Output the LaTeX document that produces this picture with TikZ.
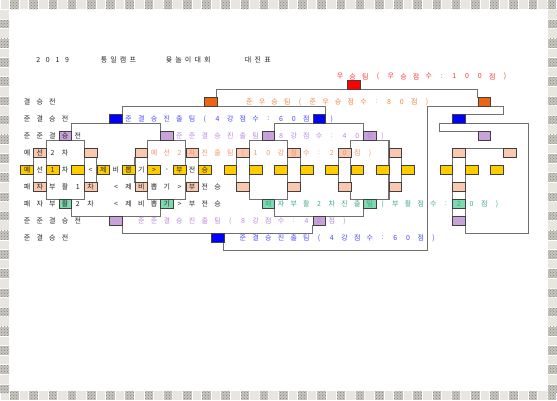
\documentclass[tikz,border=0pt]{standalone}
\usepackage{fontspec}
\setmainfont{Noto Sans CJK KR}
\usetikzlibrary{patterns}
\pgfdeclarelayer{bg}
\pgfdeclarelayer{lines}
\pgfsetlayers{bg,lines,main}
\definecolor{cyel}{RGB}{255,204,0}
\definecolor{cpch}{RGB}{250,200,175}
\definecolor{cpur}{RGB}{200,162,216}
\definecolor{cgrn}{RGB}{128,216,176}
\definecolor{cblu}{RGB}{0,0,255}
\definecolor{cdor}{RGB}{236,100,20}
\definecolor{cred}{RGB}{255,0,0}
\definecolor{tred}{RGB}{255,50,50}
\definecolor{tora}{RGB}{245,130,60}
\definecolor{tblu}{RGB}{70,70,255}
\definecolor{tpur}{RGB}{185,135,220}
\definecolor{tpch}{RGB}{240,150,110}
\definecolor{tgrn}{RGB}{60,170,135}
\definecolor{lgray}{RGB}{112,112,112}
\definecolor{tileA}{RGB}{232,230,224}
\definecolor{tileB}{RGB}{200,197,190}
\newcommand\XX[1]{(20.7+6.35*(#1))}
\newcommand\YY[1]{(80.7+8.5*(#1))}
\newcommand\cbx[4]{\node[cbox,fill=#4] (#1) at ({\XX{#2}},{\YY{#3}}) {};}
\newcommand\trow[5]{\foreach \ch [count=\i from 0] in {#5}{\node[txt,text=#4] (#1\i) at ({\XX{#2+1+2*\i}},{\YY{#3+0.5}}) {\ch};}}
\begin{document}
\begin{tikzpicture}[x=1pt,y=-1pt,
  cbox/.style={draw=black!75,line width=0.6pt,minimum width=12.7pt,minimum height=8.5pt,inner sep=0pt,outer sep=0pt,anchor=north west},
  br/.style={draw=lgray,line width=1.1pt},
  txt/.style={font=\fontsize{7}{8}\selectfont,inner sep=0pt,text=black!85},
  pat/.style={fill=tileB,postaction={pattern=crosshatch dots,pattern color=black!50}}]
\useasboundingbox (0,0) rectangle (557,400);
\begin{pgfonlayer}{bg}
\fill[white] (0,0) rectangle (557,400);
\foreach \i in {0,...,57}{
  \fill[tileA] ({9.6*\i+0.5},0.4) rectangle ({9.6*\i+9.1},9.0);
  \fill[tileA] ({9.6*\i+0.5},391.0) rectangle ({9.6*\i+9.1},399.6);
}
\foreach \i in {1,3,...,57}{
  \path[pat] ({9.6*\i+0.5},0.4) rectangle ({9.6*\i+9.1},9.0);
  \path[pat] ({9.6*\i+0.5},391.0) rectangle ({9.6*\i+9.1},399.6);
}
\foreach \j in {1,...,40}{
  \fill[tileA] (0.4,{9.6*\j+0.5}) rectangle (9.0,{9.6*\j+9.1});
  \fill[tileA] (548,{9.6*\j+0.5}) rectangle (556.6,{9.6*\j+9.1});
}
\foreach \j in {2,4,...,40}{
  \path[pat] (0.4,{9.6*\j+0.5}) rectangle (9.0,{9.6*\j+9.1});
  \path[pat] (548,{9.6*\j+0.5}) rectangle (556.6,{9.6*\j+9.1});
}
\end{pgfonlayer}
% boxes
\node[cbox,fill=cred] (rd) at (347.5,{\YY{0}}) {};
\node[cbox,fill=cdor] (oL) at (204.2,{\YY{2}}) {};
\cbx{oR}{72}{2}{cdor}
\foreach \n in {14,46,68}{\cbx{b\n}{\n}{4}{cblu}}
\cbx{b30}{30}{18}{cblu}
\foreach \n in {6,22,38,54,72}{\cbx{p\n}{\n}{6}{cpur}}
\foreach \n in {2,10,18,26,34,42,50,58,68,76}{\cbx{oa\n}{\n}{8}{cpch}}
\foreach \n in {0,4,8,12,16,20,24,28,32,36,40,44,48,52,56,60,66,70,74}{\cbx{y\n}{\n}{10}{cyel}}
\foreach \n in {2,10,18,26,34,42,50,58,68}{\cbx{ob\n}{\n}{12}{cpch}}
\foreach \n in {6,22,38,54,68}{\cbx{g\n}{\n}{14}{cgrn}}
\foreach \n in {14,46,68}{\cbx{q\n}{\n}{16}{cpur}}
\coordinate (h1) at ({\XX{64}},{\YY{3}});
\coordinate (h2) at ({\XX{76}},{\YY{4}});
\coordinate (k1) at ({\XX{66}},{\YY{6}});
\coordinate (k2) at ({\XX{80}},{\YY{5}});
\coordinate (k3) at ({\XX{70}},{\YY{18}});
% lines
\begin{pgfonlayer}{lines}
\draw[br] (oL.north east) -- ++(0,-8.5) -| (oR.north west);
\draw[br] (b14.north east) -- ++(0,-8.5) -| (b46.north east);
\draw[br] (p6.north east) -- ++(0,-8.5) -| (p22.north west);
\draw[br] (p38.north east) -- ++(0,-8.5) -| (p54.north west);
\draw[br] (g6.south east) -- ++(0,8.5) -| (g22.south west);
\draw[br] (g38.south east) -- ++(0,8.5) -| (g54.south west);
\draw[br] (q14.south east) -- ++(0,8.5) -| (q46.south west);
\draw[br] (b30.south east) -- ++(0,8.5) -| (h1) -| (h2) -- (b68.north east);
\draw[br] (p72.north west) -- (k1) |- (k2) |- (k3) |- (oa76.north west);
\draw[br] (oa68.south west) -- (q68.north west);
\foreach \g in {0,16,32,48}{
  \draw[br] ({\XX{\g+4}},{\YY{7}}) rectangle ({\XX{\g+10}},{\YY{14}});
  \draw[br] ({\XX{\g+2}},{\YY{9}}) -- ({\XX{\g+2}},{\YY{12}});
  \draw[br] ({\XX{\g+12}},{\YY{9}}) -- ({\XX{\g+12}},{\YY{12}});
}
\end{pgfonlayer}
% title
\foreach \x/\ch [count=\i] in {38.3/2,47.9/0,57.5/1,67.1/9,104/통,113.6/일,123.2/캠,132.8/프,169/윷,178.6/놀,188.2/이,197.8/대,207.4/회,248/대,257.8/진,267.5/표}
  {\node[txt] (ti\i) at (\x,60) {\ch};}
\foreach \ch [count=\i from 0] in {우,승,팀,{(},우,승,점,수,:,1,0,0,점,{)}}
  {\node[txt,text=tred] (rt\i) at ({340+12.7*\i},76.45) {\ch};}
% row labels and black text
\trow{la}{0}{2}{black!85}{결,승,전}
\trow{lb}{0}{4}{black!85}{준,결,승,전}
\trow{lc}{0}{6}{black!85}{준,준,결,승,전}
\trow{ld}{0}{8}{black!85}{예,선,2,차}
\trow{le}{0}{10}{black!85}{예,선,1,차,{},<,제,비,뽑,기,>,-,부,전,승}
\trow{lf}{0}{12}{black!85}{패,자,부,활,1,차,{},<,제,비,뽑,기,>,부,전,승}
\trow{lg}{0}{14}{black!85}{패,자,부,활,2,차,{},<,제,비,뽑,기,>,부,전,승}
\trow{lh}{0}{16}{black!85}{준,준,결,승,전}
\trow{li}{0}{18}{black!85}{준,결,승,전}
% coloured texts
\trow{ca}{35}{2}{tora}{준,우,승,팀,{(},준,우,승,점,수,:,8,0,점,{)}}
\trow{cb}{16}{4}{tblu}{준,결,승,진,출,팀,{(},4,강,점,수,:,6,0,점,{},{)}}
\trow{cc}{24}{6}{tpur}{준,준,결,승,진,출,팀,{(},8,강,점,수,:,4,0,점,{)}}
\trow{cd}{20}{8}{tpch}{예,선,2,차,진,출,팀,{(},1,0,강,점,수,:,2,0,점,{)}}
\trow{ce}{38}{14}{tgrn}{패,자,부,활,2,차,진,출,팀,{(},부,활,점,수,:,2,0,점,{)}}
\trow{cf}{18}{16}{tpur}{준,준,결,승,진,출,팀,{(},8,강,점,수,:,4,0,점,{)}}
\trow{cg}{34}{18}{tblu}{준,결,승,진,출,팀,{(},4,강,점,수,:,6,0,점,{)}}
\end{tikzpicture}
\end{document}
